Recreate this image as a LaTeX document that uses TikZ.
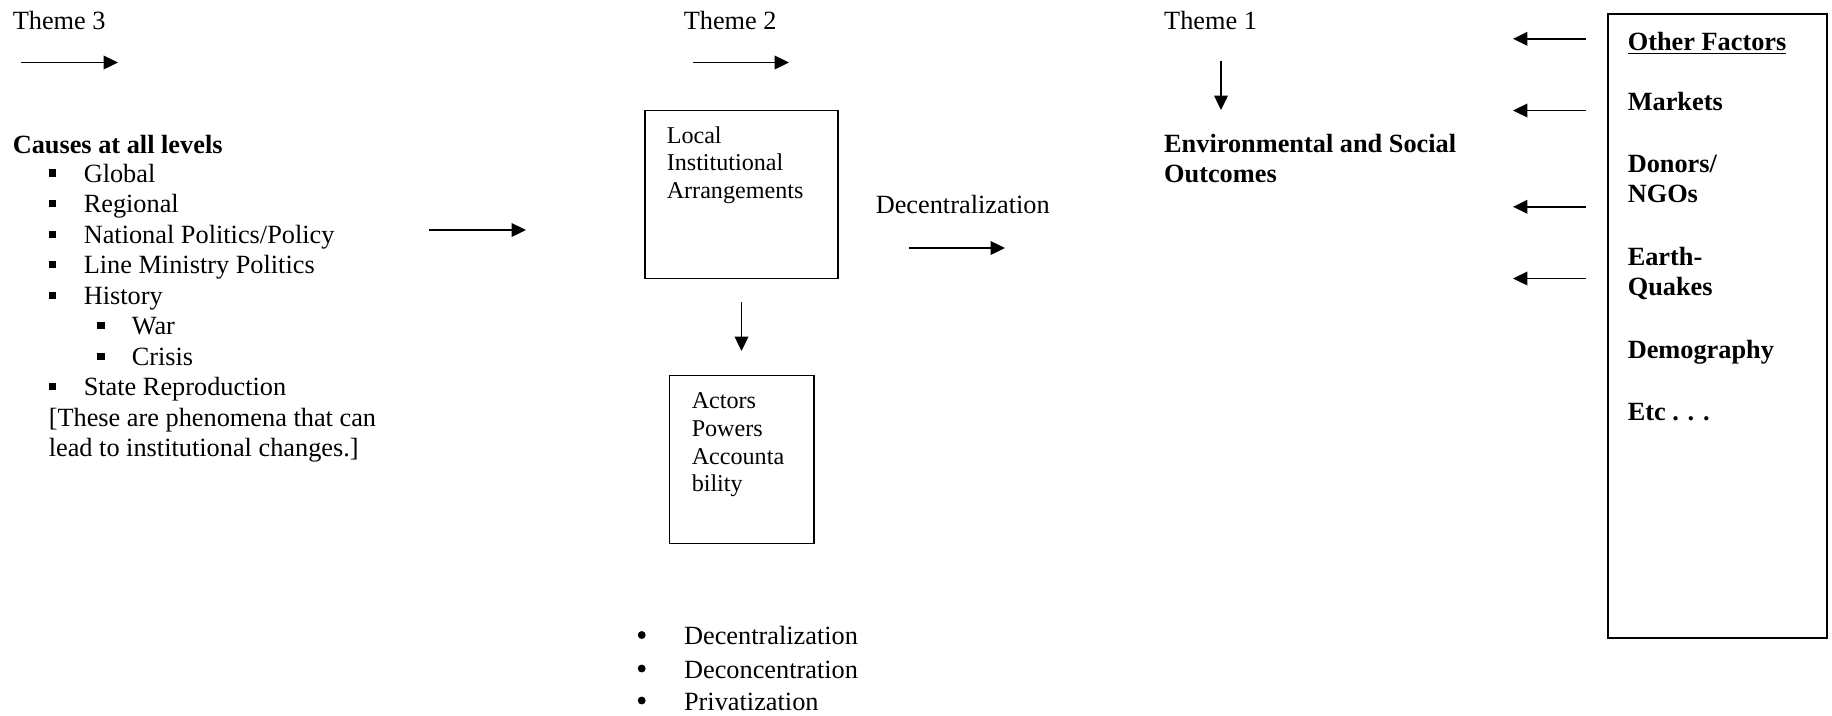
\documentclass[tikz,border=0pt]{standalone}
\usepackage{fontspec}
\setmainfont{Liberation Serif}
\usetikzlibrary{arrows.meta}

\begin{document}
\begin{tikzpicture}[x=0.456pt, y=-0.456pt, >={Triangle[length=6.6pt,width=6.2pt]}, line width=0.7pt,
  txt/.style={anchor=base west, inner sep=0pt, font=\fontsize{12}{13.8}\selectfont},
  blocktxt/.style={anchor=west, inner sep=0pt, align=left, font=\fontsize{12}{13.8}\selectfont},
  headtxt/.style={anchor=base west, inner sep=0pt, font=\fontsize{12}{13.5}\selectfont\bfseries},
  headblock/.style={anchor=west, inner sep=0pt, align=left, font=\fontsize{12}{13.5}\selectfont\bfseries},
  boxtxt/.style={anchor=west, inner sep=0pt, align=left, font=\fontsize{11}{12.6}\selectfont},
  sqbullet/.style={fill, inner sep=0pt, minimum size=3.2pt},
  rdbullet/.style={circle, fill, inner sep=0pt, minimum size=3.6pt},
  arr/.style={->, line width=0.9pt}]

\useasboundingbox (0,0) rectangle (1832,715);

% Theme 3: causes
\node[txt] (theme3) at (12,29.7) {Theme 3};
\coordinate (t3a) at (21,62.5);
\coordinate (t3b) at (118,62.5);
\draw[arr] (t3a) -- (t3b);

\node[headtxt] (causes) at (12,153) {Causes at all levels};
\node[sqbullet] (b1) at (52.5,173) {};
\node[txt] (global) at (83,182) {Global};
\node[sqbullet] (b2) at (52.5,203.5) {};
\node[txt] (regional) at (83,212.5) {Regional};
\node[sqbullet] (b3) at (52.5,234) {};
\node[txt] (national) at (83,243) {National Politics/Policy};
\node[sqbullet] (b4) at (52.5,264.5) {};
\node[txt] (ministry) at (83,273.5) {Line Ministry Politics};
\node[sqbullet] (b5) at (52.5,295) {};
\node[txt] (history) at (83,304) {History};
\node[sqbullet] (b6) at (101,325.5) {};
\node[txt] (war) at (131,334.5) {War};
\node[sqbullet] (b7) at (101,356) {};
\node[txt] (crisis) at (131,365) {Crisis};
\node[sqbullet] (b8) at (52.5,386.5) {};
\node[txt] (state) at (83,395.5) {State Reproduction};
\node[blocktxt] (note) at (48,435) {[These are phenomena that can\\lead to institutional changes.]};

\coordinate (ca) at (429,230);
\coordinate (cb) at (526,230);
\draw[arr] (ca) -- (cb);

% Theme 2: institutions
\node[txt] (theme2) at (683,29.7) {Theme 2};
\coordinate (t2a) at (693,62.5);
\coordinate (t2b) at (789,62.5);
\draw[arr] (t2a) -- (t2b);

\coordinate (lia_nw) at (645,110.5);
\coordinate (lia_se) at (838,278.5);
\draw (lia_nw) rectangle (lia_se);
\node[boxtxt] (lia) at (666,165) {Local\\Institutional\\Arrangements};

\coordinate (da) at (741.5,302);
\coordinate (db) at (741.5,351);
\draw[arr] (da) -- (db);

\coordinate (apa_nw) at (669.3,375.3);
\coordinate (apa_se) at (814,543.4);
\draw (apa_nw) rectangle (apa_se);
\node[boxtxt] (apa) at (691,445) {Actors\\Powers\\Accounta\\bility};

\node[txt] (decent) at (875,213.6) {Decentralization};
\coordinate (ea) at (909,248);
\coordinate (eb) at (1005,248);
\draw[arr] (ea) -- (eb);

\node[rdbullet] (d1) at (641.7,635) {};
\node[txt] (decentr) at (683.3,644.6) {Decentralization};
\node[rdbullet] (d2) at (641.7,668.5) {};
\node[txt] (deconc) at (683.3,678) {Deconcentration};
\node[rdbullet] (d3) at (641.7,700.5) {};
\node[txt] (privat) at (683.3,710) {Privatization};

% Theme 1: outcomes
\node[txt] (theme1) at (1163.4,29.7) {Theme 1};
\coordinate (t1a) at (1221,61);
\coordinate (t1b) at (1221,110);
\draw[arr] (t1a) -- (t1b);
\node[headblock] (outcomes) at (1163.4,158.7) {Environmental and Social\\Outcomes};

% Other factors
\coordinate (of_nw) at (1608,14);
\coordinate (of_se) at (1827,638);
\draw (of_nw) rectangle (of_se);
\node[headtxt] (other) at (1627,50) {\underline{Other Factors}};
\node[headtxt] (markets) at (1627,110.4) {Markets};
\node[headblock] (donors) at (1627,179.2) {Donors/\\NGOs};
\node[headblock] (quakes) at (1627,273.3) {Earth-\\Quakes};
\node[headtxt] (demog) at (1627,358.3) {Demography};
\node[headtxt] (etc) at (1627,420) {Etc . . .};

\coordinate (f1a) at (1586,38.8);
\coordinate (f1b) at (1513,38.8);
\draw[arr] (f1a) -- (f1b);
\coordinate (f2a) at (1586,110.5);
\coordinate (f2b) at (1513,110.5);
\draw[arr] (f2a) -- (f2b);
\coordinate (f3a) at (1586,206.8);
\coordinate (f3b) at (1513,206.8);
\draw[arr] (f3a) -- (f3b);
\coordinate (f4a) at (1586,278.5);
\coordinate (f4b) at (1513,278.5);
\draw[arr] (f4a) -- (f4b);

\end{tikzpicture}
\end{document}
